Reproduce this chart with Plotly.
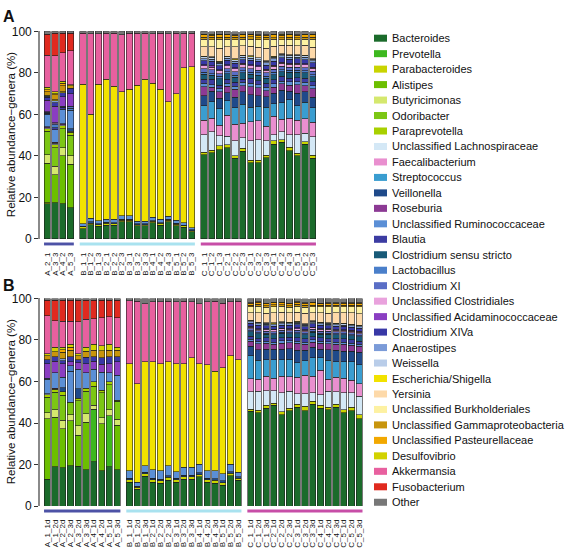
import plotly.graph_objects as go

genera = ["Bacteroides", "Prevotella", "Parabacteroides", "Alistipes", "Butyricimonas",
          "Odoribacter", "Paraprevotella", "Unclassified Lachnospiraceae", "Faecalibacterium",
          "Streptococcus", "Veillonella", "Roseburia", "Unclassified Ruminococcaceae", "Blautia",
          "Clostridium sensu stricto", "Lactobacillus", "Clostridium XI", "Unclassified Clostridiales",
          "Unclassified Acidaminococcaceae", "Clostridium XIVa", "Anaerostipes", "Weissella",
          "Escherichia/Shigella", "Yersinia", "Unclassified Burkholderiales",
          "Unclassified Gammaproteobacteria", "Unclassified Pasteurellaceae", "Desulfovibrio",
          "Akkermansia", "Fusobacterium", "Other"]
colors = ["#1b6b2b", "#3db81f", "#c9d400", "#6cbf00", "#d5e86e", "#7cc614", "#a8d000",
          "#d4e8f6", "#e98fcf", "#3a9dd0", "#1f4a8a", "#8c3a94", "#5b8fd6", "#3c3ca2",
          "#185a78", "#4a7fca", "#5a6ec6", "#e9a2dd", "#8a3ec2", "#3838a6", "#7b9bd8",
          "#b9cde9", "#f2e200", "#fdd9a9", "#fdf1a2", "#c8950c", "#f2a800", "#d2d200",
          "#e8609f", "#e02a1f", "#777777"]

# sample labels
a_names = ["A_2_1", "A_3_3", "A_4_2", "A_5_3",
           "B_1_1", "B_1_2", "B_1_3", "B_2_1", "B_2_2", "B_2_3", "B_3_1", "B_3_2", "B_3_3",
           "B_4_1", "B_4_2", "B_4_3", "B_5_1", "B_5_2", "B_5_3",
           "C_1_1", "C_1_2", "C_1_3", "C_2_1", "C_2_2", "C_2_3", "C_3_1", "C_3_2", "C_3_3",
           "C_4_1", "C_4_2", "C_4_3", "C_5_1", "C_5_2", "C_5_3"]
b_names = ["A_1_1d", "A_1_2d", "A_2_2d", "A_2_3d", "A_3_2d", "A_3_3d", "A_4_1d", "A_4_2d", "A_5_1d", "A_5_3d",
           "B_1_1d", "B_1_2d", "B_1_3d", "B_2_1d", "B_2_2d", "B_2_3d", "B_3_1d", "B_3_2d", "B_3_3d",
           "B_4_1d", "B_4_2d", "B_4_3d", "B_5_1d", "B_5_2d", "B_5_3d",
           "C_1_1d", "C_1_2d", "C_1_3d", "C_2_1d", "C_2_2d", "C_2_3d", "C_3_1d", "C_3_2d", "C_3_3d",
           "C_4_1d", "C_4_2d", "C_4_3d", "C_5_1d", "C_5_2d", "C_5_3d"]
a_group_sizes = [4, 15, 15]
b_group_sizes = [10, 15, 15]
group_colors = ["#4d52a6", "#a9e2ef", "#c74ea7"]

# ---------------- Panel A values (%) ----------------
a_bacteroides = [17, 17.5, 17, 15] + [5, 6.8, 6.2, 6.7, 6.6, 8.2, 8.2, 6.3, 6.3, 7.7, 6.7, 8.2, 6.3, 5.7, 3.5] + [40.5, 41.5, 43, 44, 39, 42.3, 36.7, 36.7, 39.2, 45.7, 46.5, 42.6, 40, 45.7, 38.8]
a_prevotella = [0] * 34
a_parabacteroides = [0.5, 0, 0, 0] + [0.8, 0.8, 0.6, 0.8, 0.8, 0.8, 0.8, 0.6, 0.6, 0.8, 0.8, 0.8, 0.8, 0.6, 0.5] + [1.2, 1.2, 1.8, 1.5, 1.2, 1.5, 1.2, 1.2, 1.2, 1.5, 1.2, 1.5, 1.2, 1.2, 1.5]
a_alistipes = [19, 13.5, 23, 21] + [0] * 30
a_butyricimonas = [4, 4, 4, 4] + [0] * 30
a_odoribacter = [11.5, 9, 9, 10] + [0] * 30
a_paraprevotella = [1, 1.5, 1.5, 1.5] + [0] * 30
a_lachno = [0.5, 0.5, 0.5, 0.5] + [0] * 15 + [8.5, 9, 5, 4, 7, 5, 9.5, 10, 7, 3, 4, 6, 9, 4, 9]
a_faecali = [0] * 19 + [7, 6.5, 5, 10, 8, 7, 9, 9, 7, 9, 6, 8, 7, 7, 7]
a_strep = [0] * 19 + [7, 8, 8, 7, 8, 9, 7, 7, 9, 6, 8, 9, 7, 8, 7]
a_veillonella = [0, 0, 0, 1] + [0.4, 0.6, 0.5, 0.5, 0.5, 0.5, 0.5, 0.4, 0.4, 0.4, 0.4, 0.5, 0.4, 0.4, 0.4] + [4.7, 5, 5, 4, 5, 6, 6, 5, 5, 5, 6, 4, 6, 5, 5]
a_roseburia = [0.5, 0.5, 0.5, 0] + [0] * 15 + [4.5, 2, 3, 3, 4, 3, 4, 4, 3, 3, 3, 3, 4, 3, 4]
a_ruminoco = [6, 6, 7, 9] + [1.2, 1.8, 1.5, 1.6, 1.6, 1.8, 1.8, 1.2, 1.2, 1.6, 1.6, 1.5, 1.5, 1.2, 1.0] + [1.5, 1.2, 1.8, 1.5, 1.3, 1.7, 1.5, 1.4, 1.6, 1.5, 1.3, 1.7, 1.5, 1.6, 1.4]
a_blautia = [0.5, 1, 1, 0] + [0] * 15 + [2, 2.5, 1.5, 2, 2, 1.5, 2.5, 2, 2, 2, 2.5, 1.5, 2, 2, 2]
a_css = [0] * 19 + [2.5, 2, 3, 2.5, 2.5, 3, 2, 2.5, 2.5, 2.5, 2, 3, 2.5, 2.5, 2.5]
a_lacto = [0.5, 1.5, 0.5, 1] + [0] * 15 + [1, 0.8, 1.2, 1, 0.9, 1.1, 1, 1.2, 0.8, 1, 1.1, 0.9, 1, 1, 1]
a_cxi = [0, 0.5, 0, 1] + [0] * 15 + [1.5, 1.8, 1.2, 1.5, 1.6, 1.4, 1.5, 1.3, 1.7, 1.5, 1.6, 1.4, 1.5, 1.5, 1.5]
a_uncclost = [0.3, 0.5, 0, 0] + [0] * 15 + [1.5, 1.3, 1.7, 1.5, 1.4, 1.6, 1.5, 1.7, 1.3, 1.5, 1.4, 1.6, 1.5, 1.5, 1.5]
a_uncacid = [5.5, 8, 4.5, 6] + [0] * 15 + [0.5, 0.6, 0.4, 0.5, 0.5, 0.5, 0.6, 0.4, 0.5, 0.5, 0.5, 0.5, 0.5, 0.4, 0.6]
a_cxiva = [1.5, 1.5, 2, 2.5] + [0] * 15 + [2, 2.3, 1.8, 2, 2.2, 1.8, 2, 2.2, 1.8, 2, 2.1, 1.9, 2, 2, 2]
a_anaero = [0.5, 1, 0, 0] + [0] * 15 + [1, 0.8, 1.2, 1, 0.9, 1.1, 1, 0.8, 1.2, 1, 1, 1, 0.9, 1.1, 1]
a_weiss = [0] * 19 + [0.8, 1, 0.6, 0.8, 0.9, 0.7, 0.8, 0.8, 0.8, 0.9, 0.7, 0.8, 0.8, 0.8, 0.8]
a_esch = [0.5, 0.5, 0.3, 0] + [67.1, 50, 65.7, 67.4, 64, 59.7, 60.7, 65.5, 68.5, 64.5, 62.5, 55, 61, 74.6, 77.6] + [0.3, 0.2, 0.4, 0.3, 0.3, 0.3, 0.4, 0.2, 0.3, 0.3, 0.3, 0.3, 0.3, 0.3, 0.3]
a_yersinia = [0] * 19 + [4.6, 4.8, 6.2, 4.5, 5.8, 4.5, 4.6, 5, 6, 5, 4, 4.5, 4.3, 4.6, 5.5]
a_burk = [0] * 19 + [3.5, 3.5, 4.5, 3.5, 3.5, 3.2, 3.5, 3.6, 4.1, 3.3, 2.8, 2.9, 3, 3, 3.7]
a_gamma = [1.5, 2.5, 3, 1.2] + [0] * 15 + [1, 1.2, 0.8, 1, 1.1, 0.9, 1, 1, 1.2, 0.8, 1, 1, 1, 1, 1]
a_pasteur = [1, 0.5, 1.2, 0] + [0] * 15 + [1.2, 1, 1.4, 1.2, 1.1, 1.3, 1.2, 1.2, 1, 1.4, 1.2, 1.2, 1.2, 1.2, 1.2]
a_desulfo = [1.2, 0.8, 1, 0.5] + [0] * 15 + [0.2, 0.3, 0.2, 0.2, 0.2, 0.2, 0.2, 0.2, 0.2, 0.2, 0.3, 0.2, 0.2, 0.2, 0.2]
a_akker = [15.5, 17.5, 13.8, 16.4] + [24.7, 38.8, 24.3, 22.2, 25.7, 27.3, 27, 25.2, 22.2, 23.8, 27.2, 32.8, 29.2, 16.7, 16.2] + [0] * 15
a_fuso = [10, 10.9, 9.4, 8.6] + [0] * 30
a_other = [1.5, 0.8, 0.8, 0.8] + [0.8, 1.2, 1.2, 0.8, 0.8, 1.7, 1, 0.8, 0.8, 1.2, 0.8, 1.2, 0.8, 0.8, 0.8] + [1.5, 1.2, 1.4, 1.6, 1.5, 1.3, 1.5, 1.6, 1.4, 1.5, 1.3, 1.5, 1.6, 1.5, 1.4]

# ---------------- Panel B values (%) ----------------
b_bacteroides = [12.9, 19, 18.4, 19.4, 19.1, 17.6, 21.3, 17.1, 19, 17.6] + [11.4, 8.2, 14.3, 11.4, 10.9, 12.4, 11.4, 12.9, 12.9, 14, 11.4, 10.9, 10.1, 14.5, 12.4] + [45.6, 45, 47, 48.5, 44, 46, 47.5, 46, 49, 47, 46.5, 47.5, 45, 46, 42]
b_prevotella = [0, 0, 0, 0, 0, 0, 25.3, 0, 24.5, 0] + [0] * 30
b_parabacteroides = [0] * 10 + [1.2, 0.8, 1.2, 1.2, 1.2, 1.5, 1.2, 1.2, 1.2, 1.2, 1.2, 1.5, 1.2, 1.2, 1] + [1, 1.2, 1.5, 1, 1.5, 1.2, 1.5, 2, 1.5, 1.5, 1.2, 1.5, 1.5, 1.5, 2]
b_alistipes = [29.1, 23.8, 18.9, 21.6, 15.1, 22.8, 0, 22.5, 0, 21.3] + [0] * 30
b_butyricimonas = [3, 3.5, 4, 3, 4.5, 4, 2, 3, 3, 3] + [0] * 30
b_odoribacter = [7.5, 8.5, 12, 6, 12, 11, 9.2, 12, 12, 8.6] + [0] * 30
b_paraprevotella = [1, 1.5, 1.7, 0, 1.3, 1.3, 2, 1.3, 1.3, 0.5] + [0] * 30
b_lachno = [0.5, 0, 0, 0, 0, 0, 0, 0, 0, 0] + [0] * 15 + [8.4, 9, 7, 6, 9, 8, 5, 6, 4, 5, 7.5, 6, 8, 7, 9]
b_faecali = [0] * 25 + [6.4, 6, 7, 6, 8, 7, 8, 9, 8, 12, 6, 7, 7, 6, 6]
b_strep = [0] * 25 + [11, 9, 8, 9, 8, 8.5, 7, 7, 9, 6, 9, 7.5, 8, 9, 9]
b_veillonella = [0, 0, 2, 0, 4.5, 0, 0, 0, 0, 0] + [0.8, 0.6, 0.8, 0.8, 0.8, 0.8, 0.8, 0.8, 0.8, 0.8, 0.8, 0.8, 0.8, 0.8, 0.6] + [4.5, 5, 5, 5, 5, 5, 6, 5, 5, 4, 5, 5.5, 5, 5, 6]
b_roseburia = [0, 0.5, 0, 0, 0, 0, 0, 0, 0, 0] + [0] * 15 + [2.5, 3, 3, 2.5, 3, 3, 3.5, 3, 2.5, 3, 3, 3, 3.5, 3, 3]
b_ruminoco = [7, 7.5, 5, 15, 9.5, 7.5, 6, 8.5, 4.5, 12] + [3.7, 1.8, 3.1, 4.2, 4.2, 4.7, 3.2, 3.8, 3.8, 4.2, 3.7, 3.9, 3.5, 3.7, 2.3] + [1, 1.2, 0.8, 1, 1.1, 0.9, 1, 1, 1.2, 0.8, 1, 1, 1, 1, 1]
b_blautia = [0] * 25 + [1.5, 1.3, 1.7, 1.5, 1.4, 1.6, 1.5, 1.5, 1.3, 1.7, 1.5, 1.5, 1.5, 1.5, 1.5]
b_css = [0] * 25 + [2, 2.2, 1.8, 2, 2.3, 1.7, 2, 2, 2.2, 1.8, 2, 2, 2, 2, 2]
b_lacto = [0.5, 0, 0, 2.5, 0, 0, 0, 0, 0, 0] + [0] * 15 + [0.5, 0.6, 0.4, 0.5, 0.5, 0.5, 0.5, 0.6, 0.4, 0.5, 0.5, 0.5, 0.5, 0.5, 0.5]
b_cxi = [0] * 25 + [1, 0.9, 1.1, 1, 1, 1, 1.2, 0.8, 1, 1, 1, 1, 1, 1, 1]
b_uncclost = [0] * 25 + [0.8, 0.8, 0.8, 0.9, 0.7, 0.8, 0.8, 0.8, 0.8, 0.8, 0.9, 0.7, 0.8, 0.8, 0.8]
b_uncacid = [7, 5.5, 6.5, 2, 3, 4.4, 4, 4, 4.2, 6.4] + [0] * 15 + [0.3, 0.3, 0.4, 0.3, 0.2, 0.3, 0.3, 0.3, 0.3, 0.4, 0.3, 0.3, 0.2, 0.3, 0.3]
b_cxiva = [2, 2, 1.5, 2.5, 1.5, 3, 2.2, 3, 3.5, 2.6] + [0] * 15 + [1.5, 1.7, 1.3, 1.5, 1.5, 1.5, 1.6, 1.4, 1.5, 1.5, 1.5, 1.5, 1.5, 1.5, 1.5]
b_anaero = [0, 0, 1, 0, 0, 0, 0, 0, 0, 0] + [0] * 15 + [0.7, 0.6, 0.8, 0.7, 0.7, 0.7, 0.7, 0.7, 0.7, 0.7, 0.6, 0.8, 0.7, 0.7, 0.7]
b_weiss = [0] * 25 + [0.5, 0.5, 0.5, 0.4, 0.6, 0.5, 0.5, 0.5, 0.5, 0.5, 0.5, 0.5, 0.5, 0.5, 0.5]
b_esch = [0] * 10 + [51.4, 47.6, 50.1, 51.9, 51.4, 50.1, 51.9, 49.8, 52.8, 48.3, 50.9, 47.9, 50.9, 52.3, 54.2] + [0.3, 0.2, 0.3, 0.4, 0.3, 0.3, 0.3, 0.3, 0.3, 0.3, 0.3, 0.3, 0.3, 0.3, 0.3]
b_yersinia = [0] * 25 + [3.5, 4.5, 4.5, 5, 4.5, 4.5, 4.5, 5, 4, 4.5, 4.5, 5, 5, 5.5, 5.5]
b_burk = [0] * 25 + [3, 3.2, 2.9, 2.9, 2.9, 2.7, 2.9, 2.9, 2.9, 2.9, 3.2, 2.9, 2.9, 2.9, 3.4]
b_gamma = [2, 2.5, 3, 3, 2, 3, 3, 3.5, 3, 3] + [0] * 15 + [0.8, 0.9, 0.7, 0.8, 0.8, 0.8, 0.8, 0.9, 0.7, 0.8, 0.8, 0.8, 0.8, 0.8, 0.8]
b_pasteur = [0, 0, 1.2, 1.5, 0, 0, 0, 0, 0, 0] + [0] * 15 + [1, 1.1, 0.9, 1, 1, 1, 1, 1, 1.1, 0.9, 1, 1, 1, 1, 1]
b_desulfo = [0.8, 2.2, 1.3, 1.5, 0.8, 1.9, 3, 2.4, 3, 1.5] + [0] * 15 + [0.2, 0.2, 0.2, 0.2, 0.2, 0.2, 0.2, 0.2, 0.2, 0.2, 0.2, 0.2, 0.2, 0.2, 0.2]
b_akker = [18.3, 12.7, 12.5, 11, 15.4, 13.5, 12.3, 13.5, 13.3, 14.3] + [30.5, 39.7, 28, 29, 29.8, 29.2, 29.8, 30.2, 26.8, 29, 30.3, 33.7, 31.3, 25.8, 28.2] + [0] * 15
b_fuso = [7.6, 10, 10.2, 10.2, 10.5, 9.2, 8.9, 8.4, 7.9, 8.4] + [0] * 30
b_other = [0.8, 0.8, 0.8, 0.8, 0.8, 0.8, 0.8, 0.8, 0.8, 0.8] + [1, 1.3, 2.5, 1.5, 1.7, 1.3, 1.7, 1.3, 1.7, 2.5, 1.7, 1.3, 2.2, 1.7, 1.3] + [2, 1.8, 2.2, 2, 1.9, 2.1, 2, 2, 1.8, 2.2, 2, 2, 2, 2, 2]

panel_a = [a_bacteroides, a_prevotella, a_parabacteroides, a_alistipes, a_butyricimonas,
           a_odoribacter, a_paraprevotella, a_lachno, a_faecali, a_strep, a_veillonella,
           a_roseburia, a_ruminoco, a_blautia, a_css, a_lacto, a_cxi, a_uncclost, a_uncacid,
           a_cxiva, a_anaero, a_weiss, a_esch, a_yersinia, a_burk, a_gamma, a_pasteur,
           a_desulfo, a_akker, a_fuso, a_other]
panel_b = [b_bacteroides, b_prevotella, b_parabacteroides, b_alistipes, b_butyricimonas,
           b_odoribacter, b_paraprevotella, b_lachno, b_faecali, b_strep, b_veillonella,
           b_roseburia, b_ruminoco, b_blautia, b_css, b_lacto, b_cxi, b_uncclost, b_uncacid,
           b_cxiva, b_anaero, b_weiss, b_esch, b_yersinia, b_burk, b_gamma, b_pasteur,
           b_desulfo, b_akker, b_fuso, b_other]

W, H = 567, 554
GAP = 0.6          # extra space between sample groups (in bar units)
PX = 7.76          # pixels per bar unit
R0 = -0.94
LEFT = 40


def positions(sizes):
    xs, off = [], 0.0
    for n in sizes:
        xs += [off + i for i in range(n)]
        off += n + GAP
    return xs


xa = positions(a_group_sizes)
xb = positions(b_group_sizes)
ra1 = xa[-1] + 0.68
rb1 = xb[-1] + 0.68

fig = go.Figure()
for name, col, va, vb in zip(genera, colors, panel_a, panel_b):
    for xs, vals, xax, yax in ((xa, va, "x", "y"), (xb, vb, "x2", "y2")):
        fig.add_trace(go.Bar(
            x=xs, y=[v if v > 0 else None for v in vals], name=name,
            marker=dict(color=col, line=dict(color="#1e1e1e", width=0.6)),
            xaxis=xax, yaxis=yax, showlegend=False, hoverinfo="name+y"))

font_family = "Liberation Sans, Arial, sans-serif"
ydom_a = [1 - 238 / H, 1 - 25 / H]
ydom_b = [1 - 512 / H, 1 - 299 / H]


def xdom(r1):
    return [LEFT / W, (LEFT + (r1 - R0) * PX) / W]


xcommon = dict(tickangle=-90, tickfont=dict(size=8, color="#111"), showline=False,
               ticks="", showgrid=False, zeroline=False, ticklabelstandoff=11)
ycommon = dict(range=[0, 100], tickvals=[0, 20, 40, 60, 80, 100], ticks="outside",
               ticklen=4, tickwidth=1, tickcolor="#333", showline=True, linecolor="#8a8a8a",
               linewidth=1.6, showgrid=False, zeroline=False,
               tickfont=dict(size=12, color="#111"))

fig.update_layout(
    width=W, height=H, autosize=False, barmode="stack", bargap=0.2,
    margin=dict(l=0, r=0, t=0, b=0),
    paper_bgcolor="white", plot_bgcolor="white",
    font=dict(family=font_family, color="#111"),
    xaxis=dict(domain=xdom(ra1), range=[R0, ra1], tickvals=xa, ticktext=a_names,
               anchor="y", **xcommon),
    yaxis=dict(domain=ydom_a, anchor="x", **ycommon),
    xaxis2=dict(domain=xdom(rb1), range=[R0, rb1], tickvals=xb, ticktext=b_names,
                anchor="y2", **xcommon),
    yaxis2=dict(domain=ydom_b, anchor="x2", **ycommon),
)

shapes, annotations = [], []

# group colour bars under each panel
for xs, sizes, r1, xr, yr in ((xa, a_group_sizes, ra1, "x domain", "y domain"),
                              (xb, b_group_sizes, rb1, "x2 domain", "y2 domain")):
    start = 0
    for gi, n in enumerate(sizes):
        g0 = xs[start] - 0.42
        g1 = xs[start + n - 1] + 0.42
        shapes.append(dict(type="rect", xref=xr, yref=yr,
                           x0=(g0 - R0) / (r1 - R0), x1=(g1 - R0) / (r1 - R0),
                           y0=-0.017, y1=-0.031, fillcolor=group_colors[gi],
                           line=dict(width=0)))
        start += n

# panel letters
annotations.append(dict(text="<b>A</b>", x=2 / W, y=1, xref="paper", yref="paper",
                        xanchor="left", yanchor="top", showarrow=False, borderpad=0,
                        font=dict(size=16, color="#111")))
annotations.append(dict(text="<b>B</b>", x=2 / W, y=1 - 276 / H, xref="paper", yref="paper",
                        xanchor="left", yanchor="top", showarrow=False, borderpad=0,
                        font=dict(size=16, color="#111")))

# y-axis titles
for dom in (ydom_a, ydom_b):
    annotations.append(dict(text="Relative abundance\u2212genera (%)", textangle=-90,
                            x=11 / W, y=(dom[0] + dom[1]) / 2, xref="paper", yref="paper",
                            xanchor="center", yanchor="middle", showarrow=False, borderpad=0,
                            font=dict(size=11.5, color="#111")))

# legend (drawn manually to match compact spacing)
LEG_Y0, LEG_DY = 32.0, 15.87
for i, (name, col) in enumerate(zip(genera, colors)):
    yc = LEG_Y0 + i * LEG_DY
    shapes.append(dict(type="rect", xref="paper", yref="paper",
                       x0=374 / W, x1=387 / W, y0=1 - (yc + 3.6) / H, y1=1 - (yc - 3.6) / H,
                       fillcolor=col, line=dict(width=0)))
    annotations.append(dict(text=name, x=391 / W, y=1 - yc / H, xref="paper", yref="paper",
                            xanchor="left", yanchor="middle", showarrow=False, borderpad=0,
                            font=dict(size=11, color="#111")))

fig.update_layout(shapes=shapes, annotations=annotations)
fig.write_html("out.html", config={"displayModeBar": False},
               post_script="document.body.style.margin='0';document.body.style.padding='0';")
